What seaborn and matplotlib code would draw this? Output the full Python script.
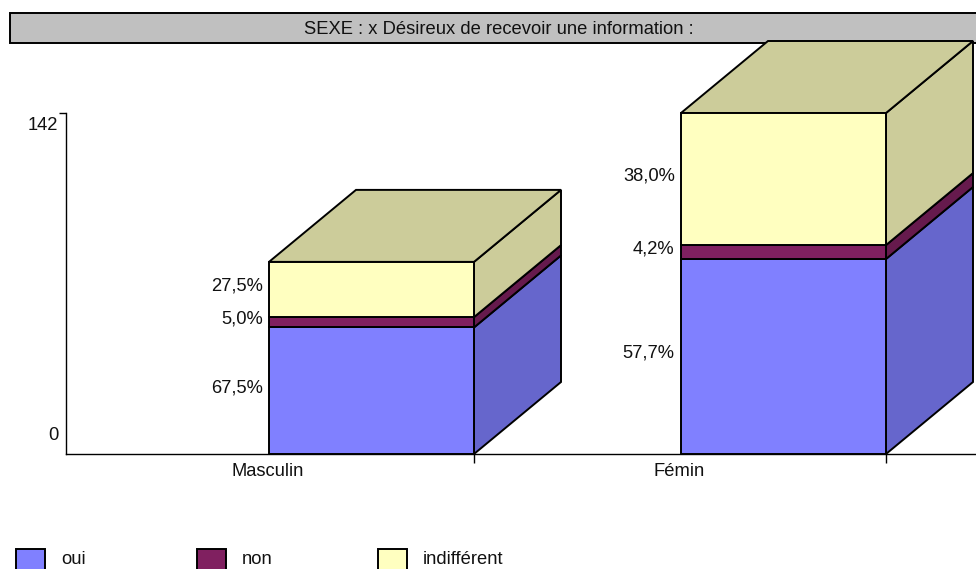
import matplotlib
matplotlib.use("Agg")
import matplotlib.pyplot as plt
from matplotlib.patches import Polygon, Rectangle
from matplotlib.transforms import ScaledTranslation
import numpy as np
import seaborn as sns

title = "SEXE : x Désireux de recevoir une information :"
categories = ["Masculin", "Fémin"]
series_names = ["oui", "non", "indifférent"]
oui = [52.7, 81.2]
non = [4.3, 5.8]
indifferent = [23.0, 55.0]
oui_labels = ["67,5%", "57,7%"]
non_labels = ["5,0%", "4,2%"]
indifferent_labels = ["27,5%", "38,0%"]
y_max = 142

front_colors = ["#8080FF", "#802060", "#FFFFC0"]
side_colors = ["#6666CC", "#661A4D", "#CCCC9A"]
top_color = "#CCCC9A"

W, H = 976, 569
sns.set_theme(style="white")
plt.rcParams["font.family"] = ["Liberation Sans", "DejaVu Sans"]
FS = 13.2
LW = 1.4

fig = plt.figure(figsize=(W / 100, H / 100), dpi=100, facecolor="white")
ax = fig.add_axes([66 / W, (H - 454) / H, (W - 66) / W, 341 / H])
ax.patch.set_alpha(0)

# title band
fig.add_artist(Rectangle((10 / W, (H - 42.5) / H), 980 / W, 29.5 / H, transform=fig.transFigure,
                         facecolor="#C0C0C0", edgecolor="black", linewidth=LW, zorder=0))

# geometry: one category is 412 px wide
px_x = 412.0
px_y = 341.0 / y_max
bar_w = 205 / px_x
dx = 87 / px_x
dy = 72 / px_y

values = [np.array(oui, float), np.array(non, float), np.array(indifferent, float)]
labels = [oui_labels, non_labels, indifferent_labels]
totals = sum(values)
x_pos = np.arange(len(categories))

bottom = np.zeros(len(categories))
for name, vals, labs, col, side in zip(series_names, values, labels, front_colors, side_colors):
    sns.barplot(x=categories, y=vals, bottom=bottom, width=bar_w, color=col, saturation=1,
                edgecolor="black", linewidth=LW, ax=ax, zorder=4, clip_on=False)
    for i in x_pos:
        r = i + bar_w / 2
        b, t = bottom[i], bottom[i] + vals[i]
        ax.add_patch(Polygon([(r, b), (r + dx, b + dy), (r + dx, t + dy), (r, t)], closed=True,
                             facecolor=side, edgecolor="black", linewidth=LW, zorder=3, clip_on=False))
        ax.annotate(labs[i], (i - bar_w / 2, (b + t) / 2), xytext=(-4.5, 2.2), textcoords="offset points",
                    ha="right", va="center", fontsize=FS, color="#111111", annotation_clip=False)
    bottom = bottom + vals

for i in x_pos:
    l, r, t = i - bar_w / 2, i + bar_w / 2, totals[i]
    ax.add_patch(Polygon([(l, t), (l + dx, t + dy), (r + dx, t + dy), (r, t)], closed=True,
                         facecolor=top_color, edgecolor="black", linewidth=LW, zorder=3, clip_on=False))

ax.set_xlim(-(371.5 - 66) / px_x, (W - 371.5) / px_x)
ax.set_ylim(0, y_max)

for s in ["top", "right"]:
    ax.spines[s].set_visible(False)
for s in ["left", "bottom"]:
    ax.spines[s].set_visible(True)
    ax.spines[s].set_color("black")
    ax.spines[s].set_linewidth(1.0)

# x axis: labels at slot centres, tick marks at slot boundaries
ax.set_xticks(x_pos - bar_w / 2 - 1.5 / px_x)
ax.set_xticklabels(categories, fontsize=FS, color="#111111")
ax.tick_params(axis="x", which="major", length=0, pad=6.5)
ax.set_xticks(x_pos + bar_w / 2, minor=True)
ax.tick_params(axis="x", which="minor", length=6.5, width=1.0, color="black", bottom=True)
ax.set_xlabel("")

# y axis
ax.set_yticks([0, y_max])
ax.set_yticklabels(["0", str(y_max)], fontsize=FS, color="#111111")
ax.tick_params(axis="y", length=5, width=1.0, color="black", pad=0.5, left=True)
yt = ax.yaxis.get_major_ticks()
yt[0].tick1line.set_visible(False)
yt[0].label1.set_transform(yt[0].label1.get_transform() + ScaledTranslation(0, 20 / 100, fig.dpi_scale_trans))
yt[1].label1.set_transform(yt[1].label1.get_transform() + ScaledTranslation(0, -10 / 100, fig.dpi_scale_trans))

# title
fig.text(498.5 / W, (H - 30) / H, title, ha="center", va="center", fontsize=FS, color="#111111", zorder=1)

# legend
for x0, name, col in zip([16, 197, 378], series_names, front_colors):
    fig.add_artist(Rectangle((x0 / W, (H - 575) / H), 29 / W, 26 / H, transform=fig.transFigure,
                             facecolor=col, edgecolor="black", linewidth=LW))
    fig.text((x0 + 45) / W, (H - 559.5) / H, name, ha="left", va="center", fontsize=FS, color="#111111")

fig.savefig("out.png", dpi=100)
